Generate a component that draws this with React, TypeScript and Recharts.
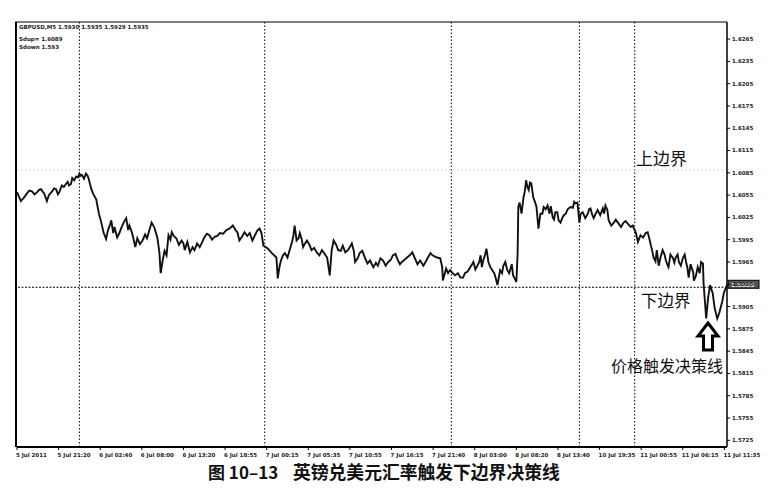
import { LineChart, Line, XAxis, YAxis, ReferenceLine } from 'recharts'

// [bar index (M5 bars from the first bar on screen), price]
const priceTrace: [number, number][] = [
  [0, 1.6059], [3, 1.6053], [6, 1.6047], [9, 1.605], [11, 1.6052], [15, 1.6057], [19, 1.6061], [23, 1.606],
  [27, 1.6056], [31, 1.6059], [34, 1.6062], [37, 1.6063], [40, 1.6059], [42, 1.6057], [46, 1.6047], [49, 1.6055],
  [52, 1.6058], [54, 1.606], [57, 1.6064], [60, 1.6063], [63, 1.6056], [65, 1.6059], [69, 1.6068], [72, 1.6066],
  [76, 1.6071], [78, 1.6073], [80, 1.6068], [83, 1.607], [85, 1.6078], [88, 1.6075], [91, 1.608], [94, 1.6079],
  [96, 1.6084], [98, 1.6081], [100, 1.6082], [103, 1.6077], [106, 1.6084], [108, 1.6082], [110, 1.6078], [114, 1.6064],
  [117, 1.6057], [122, 1.6049], [123, 1.6044], [126, 1.603], [130, 1.6017], [133, 1.6005], [137, 1.5996], [140, 1.6008],
  [143, 1.6015], [145, 1.6021], [148, 1.6004], [150, 1.6012], [154, 1.5998], [157, 1.6003], [160, 1.601], [164, 1.6018],
  [168, 1.6024], [171, 1.6008], [173, 1.6014], [177, 1.6004], [180, 1.5993], [182, 1.5985], [185, 1.5997], [189, 1.5989],
  [193, 1.5994], [197, 1.6002], [200, 1.5997], [204, 1.6009], [207, 1.6018], [211, 1.6012], [214, 1.6003], [216, 1.5997],
  [219, 1.5978], [221, 1.595], [224, 1.5967], [227, 1.598], [230, 1.5974], [233, 1.6001], [236, 1.5995], [238, 1.6005],
  [241, 1.6], [245, 1.5997], [249, 1.5988], [253, 1.5994], [256, 1.599], [258, 1.5981], [262, 1.5992], [266, 1.5978],
  [270, 1.5985], [273, 1.5981], [277, 1.599], [281, 1.5985], [285, 1.5992], [288, 1.5998], [292, 1.6003], [296, 1.6001],
  [300, 1.5995], [304, 1.5999], [308, 1.6], [312, 1.6004], [317, 1.6003], [322, 1.6008], [327, 1.601], [332, 1.6014],
  [336, 1.6008], [339, 1.6005], [342, 1.5994], [346, 1.5999], [350, 1.6005], [354, 1.6], [358, 1.6004], [362, 1.5994],
  [366, 1.6001], [370, 1.6008], [373, 1.601], [376, 1.6004], [379, 1.5987], [386, 1.5983], [392, 1.5977], [399, 1.5971],
  [401, 1.5943], [404, 1.596], [406, 1.5967], [409, 1.5974], [412, 1.5977], [416, 1.5971], [419, 1.598], [423, 1.5992],
  [425, 1.6], [427, 1.6014], [430, 1.5994], [433, 1.5997], [435, 1.6004], [438, 1.5995], [440, 1.5985], [443, 1.599],
  [446, 1.5994], [450, 1.5988], [453, 1.5981], [457, 1.5984], [461, 1.5978], [465, 1.5974], [469, 1.5981], [473, 1.5976],
  [477, 1.5971], [481, 1.5947], [484, 1.5981], [487, 1.5994], [491, 1.5988], [494, 1.5981], [498, 1.598], [501, 1.5987],
  [505, 1.5978], [509, 1.5981], [512, 1.5985], [515, 1.599], [518, 1.598], [520, 1.5965], [524, 1.597], [527, 1.5977],
  [531, 1.598], [535, 1.5971], [539, 1.5963], [543, 1.5967], [548, 1.5958], [552, 1.5964], [555, 1.596], [559, 1.597],
  [563, 1.5967], [567, 1.596], [571, 1.5965], [575, 1.5968], [578, 1.5974], [582, 1.5976], [586, 1.5967], [589, 1.5962],
  [592, 1.5965], [596, 1.5968], [600, 1.5971], [604, 1.5974], [608, 1.5978], [612, 1.597], [616, 1.5962], [620, 1.5967],
  [625, 1.596], [629, 1.5966], [632, 1.5971], [636, 1.5977], [639, 1.5974], [646, 1.5971], [651, 1.597], [654, 1.5958],
  [655, 1.594], [660, 1.5956], [663, 1.595], [666, 1.5954], [670, 1.595], [674, 1.5947], [678, 1.595], [682, 1.5944],
  [686, 1.5944], [689, 1.595], [693, 1.5952], [697, 1.5958], [700, 1.5962], [702, 1.5965], [705, 1.5955], [708, 1.596],
  [711, 1.5965], [713, 1.5974], [715, 1.5958], [717, 1.5967], [720, 1.5975], [722, 1.5983], [725, 1.5965], [728, 1.5958],
  [731, 1.5954], [734, 1.595], [736, 1.5944], [739, 1.5934], [743, 1.5954], [746, 1.595], [748, 1.596], [751, 1.5965],
  [754, 1.5954], [757, 1.595], [759, 1.5956], [761, 1.5962], [763, 1.5947], [766, 1.5942], [768, 1.5938], [770, 1.5977],
  [771, 1.6039], [773, 1.6045], [776, 1.603], [779, 1.6052], [781, 1.606], [783, 1.6075], [785, 1.6066], [787, 1.6062],
  [789, 1.6072], [791, 1.6071], [794, 1.6052], [797, 1.6045], [799, 1.6039], [802, 1.601], [805, 1.603], [808, 1.603],
  [810, 1.6039], [813, 1.6036], [816, 1.6041], [819, 1.603], [821, 1.604], [824, 1.6025], [826, 1.6022], [828, 1.6032],
  [831, 1.6032], [833, 1.6021], [836, 1.6018], [839, 1.6025], [841, 1.6028], [844, 1.603], [847, 1.6036], [851, 1.6039],
  [855, 1.6038], [857, 1.6046], [859, 1.6044], [862, 1.6045], [865, 1.6018], [867, 1.603], [870, 1.6032], [874, 1.6024],
  [878, 1.603], [880, 1.6036], [882, 1.6037], [885, 1.6028], [887, 1.6024], [890, 1.603], [893, 1.6035], [897, 1.6028],
  [901, 1.6037], [903, 1.603], [905, 1.6041], [908, 1.6035], [910, 1.6021], [914, 1.6014], [918, 1.6018], [921, 1.6022],
  [925, 1.6017], [929, 1.6012], [933, 1.6018], [936, 1.602], [939, 1.6017], [944, 1.6012], [947, 1.6014], [949, 1.601],
  [952, 1.6004], [955, 1.5992], [959, 1.6001], [963, 1.5998], [967, 1.6004], [970, 1.6005], [973, 1.5995], [975, 1.5987],
  [977, 1.598], [979, 1.5971], [982, 1.5966], [984, 1.5981], [987, 1.596], [990, 1.5972], [993, 1.5981], [996, 1.5975],
  [998, 1.5967], [1000, 1.5962], [1002, 1.5958], [1005, 1.5975], [1009, 1.597], [1011, 1.5964], [1013, 1.5971], [1016, 1.5975],
  [1018, 1.5965], [1021, 1.596], [1024, 1.597], [1027, 1.5975], [1029, 1.5965], [1031, 1.5958], [1033, 1.5944], [1036, 1.5962],
  [1040, 1.5951], [1041, 1.594], [1044, 1.5946], [1047, 1.5958], [1050, 1.595], [1052, 1.5965], [1055, 1.5963], [1056, 1.5936],
  [1060, 1.5889], [1063, 1.5917], [1066, 1.5934], [1070, 1.5923], [1073, 1.5903], [1077, 1.5889], [1080, 1.5896], [1085, 1.5913],
  [1087, 1.5923], [1092, 1.5934],
]

const tickBars = [0, 64, 128, 192, 256, 320, 384, 448, 512, 576, 640, 704, 768, 832, 896, 960, 1024, 1088]
const tickLabels = [
  '5 Jul 2011', '5 Jul 21:20', '6 Jul 02:40', '6 Jul 08:00', '6 Jul 13:20', '6 Jul 18:55',
  '7 Jul 00:15', '7 Jul 05:35', '7 Jul 10:55', '7 Jul 16:15', '7 Jul 21:40', '8 Jul 03:00',
  '8 Jul 08:20', '8 Jul 13:40', '10 Jul 19:35', '11 Jul 00:55', '11 Jul 06:15', '11 Jul 11:35',
]
const priceTicks = [
  1.5725, 1.5755, 1.5785, 1.5815, 1.5845, 1.5875, 1.5905, 1.5935, 1.5965, 1.5995,
  1.6025, 1.6055, 1.6085, 1.6115, 1.6145, 1.6175, 1.6205, 1.6235, 1.6265,
]
const daySeparators = [96, 381, 668, 865, 950]
const upperLine = 1.6089
const lowerLine = 1.5931
const lastPrice = 1.5935

const data = priceTrace.map(([bar, price]) => ({ bar, price }))

const smallFont = '"DejaVu Sans", sans-serif'
const cjkFont = '"Noto Sans CJK SC", sans-serif'

function TimeTick(props: any) {
  const { x, y, payload } = props
  const idx = tickBars.indexOf(payload.value)
  return (
    <text x={x - 1} y={y + 5} fontSize={5.5} fontFamily={smallFont} fontWeight="bold" fill="#222" textAnchor="start">
      {tickLabels[idx]}
    </text>
  )
}

function PriceBox(props: any) {
  const { viewBox } = props
  const x = viewBox.x + viewBox.width
  const y = viewBox.y
  return (
    <g>
      <rect x={x + 1} y={y - 4} width={31} height={8} fill="#555" stroke="#000" />
      <text x={x + 4} y={y + 2.5} fontSize={6} fontFamily={smallFont} fontWeight="bold" fill="#fff">
        {lastPrice.toFixed(4)}
      </text>
    </g>
  )
}

export default function App() {
  return (
    <div style={{ position: 'absolute', left: 0, top: 0, width: 773, height: 498, background: '#fff' }}>
      <LineChart width={773} height={498} data={data} margin={{ top: 22, right: 0, bottom: 0, left: 17 }}>
        <XAxis
          dataKey="bar"
          type="number"
          domain={[0, 1092]}
          ticks={tickBars}
          interval={0}
          height={51}
          tickSize={3}
          tick={<TimeTick />}
          axisLine={{ stroke: '#000', strokeWidth: 2 }}
          tickLine={{ stroke: '#000' }}
          allowDataOverflow
        />
        <YAxis
          orientation="right"
          type="number"
          domain={[1.5716, 1.6288]}
          ticks={priceTicks}
          interval={0}
          width={46}
          tickSize={3}
          tickMargin={2}
          tickFormatter={(v: number) => v.toFixed(4)}
          tick={{ fontSize: 5.5, fontFamily: smallFont, fontWeight: 'bold', fill: '#222', textAnchor: 'start' }}
          axisLine={{ stroke: '#000', strokeWidth: 1.5 }}
          tickLine={{ stroke: '#000' }}
          allowDataOverflow
        />
        {daySeparators.map((b) => (
          <ReferenceLine key={b} x={b} stroke="#000" strokeWidth={1} strokeDasharray="1.5 2" />
        ))}
        <ReferenceLine y={upperLine} stroke="#dcdcdc" strokeWidth={1} strokeDasharray="2 2" />
        <ReferenceLine y={lowerLine} stroke="#000" strokeWidth={1} strokeDasharray="2 1.5" />
        <ReferenceLine y={lastPrice} stroke="none" label={<PriceBox />} />
        <Line
          type="linear"
          dataKey="price"
          stroke="#111"
          strokeWidth={1.9}
          dot={false}
          isAnimationActive={false}
        />
      </LineChart>
      <svg width={773} height={498} style={{ position: 'absolute', left: 0, top: 0, pointerEvents: 'none' }}>
        <line x1={15} y1={22} x2={727} y2={22} stroke="#000" strokeWidth={1.2} />
        <line x1={16} y1={22} x2={16} y2={447} stroke="#000" strokeWidth={2} />
        <text x={19} y={29} fontSize={5.5} fontFamily={smallFont} fontWeight="bold" fill="#222">
          GBPUSD,M5  1.5930 1.5935 1.5929 1.5935
        </text>
        <text x={19} y={41} fontSize={5.5} fontFamily={smallFont} fontWeight="bold" fill="#222">
          Sdup= 1.6089
        </text>
        <text x={19} y={49} fontSize={5.5} fontFamily={smallFont} fontWeight="bold" fill="#222">
          Sdown 1.593
        </text>
        <text x={636} y={165} fontSize={17} fontFamily={cjkFont} fill="#111">上边界</text>
        <text x={641} y={307} fontSize={16.5} fontFamily={cjkFont} fill="#111">下边界</text>
        <text x={611} y={372} fontSize={16} fontFamily={cjkFont} fill="#111">价格触发决策线</text>
        <path
          d="M708,323 L718,336 L712.5,336 L712.5,350 L703.5,350 L703.5,336 L698,336 Z"
          fill="#fff"
          stroke="#000"
          strokeWidth={3}
          strokeLinejoin="miter"
        />
        <text x={208} y={479} fontSize={17} fontFamily={cjkFont} fontWeight="bold" fill="#111">
          图 10–13
        </text>
        <text x={293} y={479} fontSize={17.8} fontFamily={cjkFont} fontWeight="bold" fill="#111">
          英镑兑美元汇率触发下边界决策线
        </text>
      </svg>
    </div>
  )
}
